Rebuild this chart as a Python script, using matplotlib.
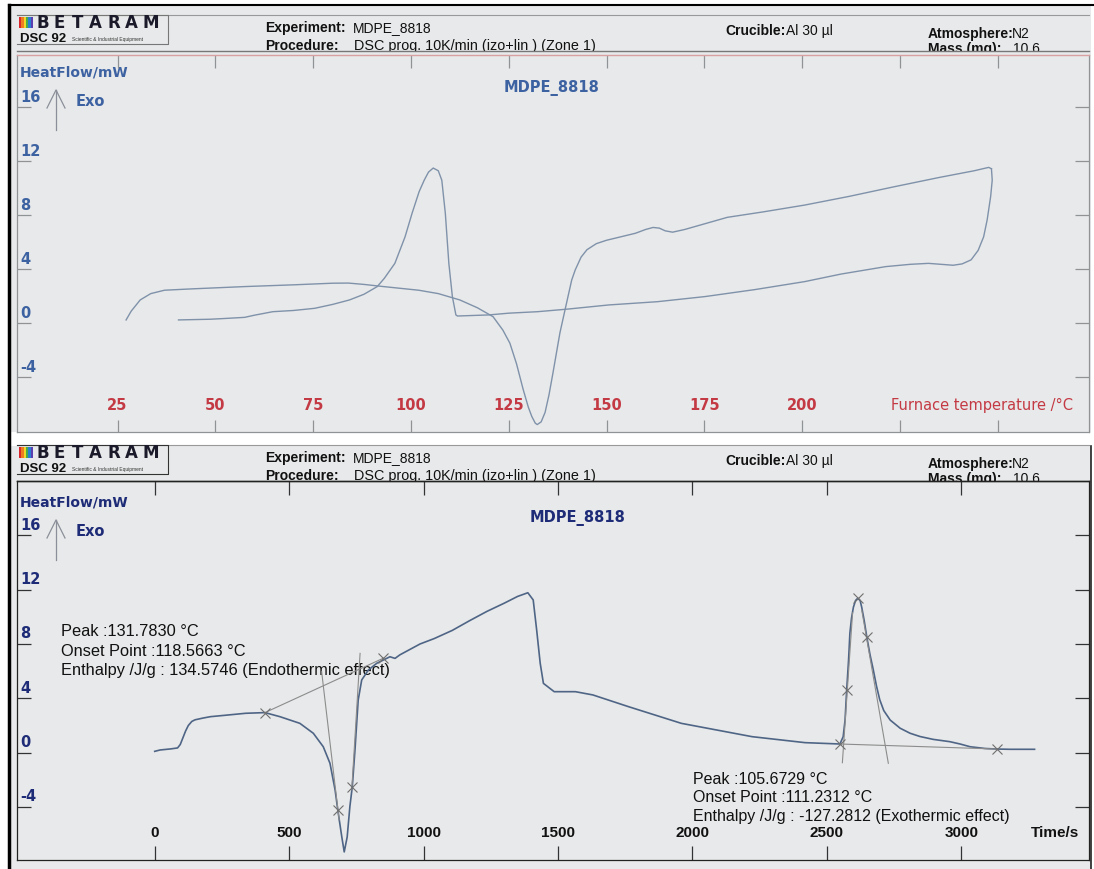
import matplotlib.pyplot as plt
from matplotlib.patches import Rectangle
from matplotlib.transforms import blended_transform_factory as blend

plt.rcParams['font.family'] = ['Liberation Sans', 'DejaVu Sans']

# heat flow (mW) against furnace temperature (degC): heating ramp then cooling
heat_T = [27.2, 28.5, 30.8, 33.5, 37.0, 44.0, 57.5, 70.0, 80.0, 84.0, 88.0, 93.0,
          102.0, 107.0, 112.5, 117.0, 121.0, 123.5, 125.3, 127.0, 128.7, 130.0,
          130.9, 131.8, 132.3, 133.3, 134.3, 135.3, 136.3, 137.2, 138.1, 139.4,
          141.1, 142.0, 143.5, 145.0, 147.4, 150.0, 157.4, 160.0, 161.9, 163.5,
          165.0, 166.9, 170.0, 180.9, 190.0, 200.7, 212.0, 223.3, 235.0, 244.0,
          247.7, 248.4]
heat_hf = [0.25, 0.9, 1.73, 2.2, 2.45, 2.55, 2.72, 2.85, 2.97, 2.98, 2.88, 2.72,
           2.45, 2.2, 1.73, 1.15, 0.49, -0.5, -1.47, -3.0, -4.9, -6.2,
           -6.9, -7.4, -7.5, -7.3, -6.6, -5.3, -3.7, -2.2, -0.7, 1.0,
           3.2, 3.95, 4.9, 5.45, 5.9, 6.15, 6.67, 6.95, 7.1, 7.05,
           6.85, 6.75, 6.95, 7.85, 8.25, 8.76, 9.4, 10.1, 10.8, 11.3,
           11.55, 11.45]
cool_T = [248.4, 248.6, 248.2, 247.3, 246.4, 245.0, 243.2, 240.9, 238.6, 232.3,
          227.7, 221.4, 210.0, 200.7, 188.0, 175.2, 163.0, 150.6, 140.0, 132.4,
          125.0, 119.9, 111.9, 111.5, 110.6, 109.7, 108.8, 107.9, 107.0, 105.7,
          104.5, 103.4, 102.1, 100.3, 98.5, 95.9, 93.2, 91.4, 88.0, 84.3,
          80.0, 75.4, 70.0, 64.7, 60.0, 57.5, 52.0, 48.6, 40.6]
cool_hf = [11.45, 10.6, 9.4, 7.65, 6.4, 5.4, 4.7, 4.4, 4.3, 4.44,
           4.37, 4.2, 3.65, 3.09, 2.5, 1.98, 1.6, 1.36, 1.05, 0.86,
           0.75, 0.62, 0.54, 0.62, 1.98, 4.44, 8.15, 10.6, 11.3, 11.5,
           11.2, 10.6, 9.75, 8.15, 6.4, 4.44, 3.33, 2.72, 2.15, 1.73,
           1.4, 1.11, 0.95, 0.86, 0.6, 0.44, 0.35, 0.3, 0.25]

# the same run against time (s)
time_s = [0, 20, 60, 85, 95, 105, 115, 125, 138, 150, 180, 207, 260, 338, 410,
          466, 540, 590, 627, 652, 671, 681, 696, 705, 716, 726, 735, 745, 757,
          770, 795, 826, 875, 894, 912, 987, 1040, 1107, 1170, 1236, 1300, 1350,
          1388, 1408, 1421, 1434, 1446, 1486, 1565, 1630, 1762, 1959, 2222, 2419,
          2549, 2561, 2568, 2574, 2581, 2586, 2592, 2599, 2607, 2615, 2624, 2630,
          2639, 2649, 2661, 2673, 2685, 2697, 2712, 2736, 2773, 2810, 2847, 2896,
          2958, 2996, 3033, 3089, 3132, 3182, 3273]
time_hf = [0.1, 0.2, 0.28, 0.35, 0.6, 1.1, 1.6, 2.0, 2.3, 2.42, 2.55, 2.65, 2.75,
           2.9, 2.95, 2.65, 2.16, 1.43, 0.44, -0.78, -2.74, -4.2, -6.2, -7.3,
           -6.2, -3.97, -2.5, 0.2, 3.88, 5.35, 6.09, 6.58, 7.06, 6.94, 7.2, 8.0,
           8.4, 9.0, 9.7, 10.4, 11.0, 11.5, 11.77, 11.24, 9.0, 6.58, 5.1, 4.49,
           4.49, 4.25, 3.39, 2.16, 1.18, 0.74, 0.64, 1.18, 2.4, 4.6, 6.8, 8.8,
           9.9, 10.7, 11.2, 11.36, 11.2, 10.7, 9.75, 8.5, 7.2, 6.1, 4.9, 3.9,
           3.1, 2.4, 1.8, 1.43, 1.19, 0.98, 0.81, 0.64, 0.44, 0.31, 0.27, 0.25,
           0.25]

# peak integration: baselines, tangents and picked points
endo_base_t, endo_base_hf = [410, 850], [2.95, 6.95]
endo_left_t, endo_left_hf = [621, 686], [5.96, -4.95]
endo_right_t, endo_right_hf = [764, 733], [7.31, -2.74]
exo_base_t, exo_base_hf = [2549, 3132], [0.64, 0.27]
exo_left_t, exo_left_hf = [2558, 2596], [-0.74, 10.3]
exo_right_t, exo_right_hf = [2630, 2729], [10.5, -0.78]
pick_t = [410, 681, 735, 850, 2549, 2574, 2615, 2649, 3132]
pick_hf = [2.95, -4.2, -2.5, 6.95, 0.64, 4.6, 11.36, 8.5, 0.27]

temp_ticks = [25, 50, 75, 100, 125, 150, 175, 200, 225, 250]
temp_labels = ['25', '50', '75', '100', '125', '150', '175', '200']
time_ticks = [0, 500, 1000, 1500, 2000, 2500, 3000]
hf_ticks = [-4, 0, 4, 8, 12, 16]

endo_text = ['Peak :131.7830 °C', 'Onset Point :118.5663 °C',
             'Enthalpy /J/g : 134.5746 (Endothermic effect)']
exo_text = ['Peak :105.6729 °C', 'Onset Point :111.2312 °C',
            'Enthalpy /J/g : -127.2812 (Exothermic effect)']

W, H = 1094, 869
PAPER = '#e8e9ea'
fig = plt.figure(figsize=(W / 100, H / 100), dpi=100)
fig.patch.set_facecolor('white')

bg = fig.add_axes([0, 0, 1, 1])
bg.set_xlim(0, W)
bg.set_ylim(H, 0)
bg.axis('off')


def px_axes(x0, y0, x1, y1):
    a = fig.add_axes([x0 / W, 1 - y1 / H, (x1 - x0) / W, (y1 - y0) / H])
    a.patch.set_alpha(0)
    return a


# paper sheets and outer frame
bg.add_patch(Rectangle((10, 6), 1081, 426, color=PAPER, lw=0))
bg.add_patch(Rectangle((10, 446), 1081, 423, color=PAPER, lw=0))
bg.plot([9, 9], [5, 869], color='black', lw=2.5)
bg.plot([9, 1094], [5, 5], color='black', lw=1.5)
bg.plot([1091, 1091], [446, 869], color='#222222', lw=1.2)


def header(y0, dark):
    line_c = '#333333' if dark else '#777777'
    bg.plot([17, 1089], [y0, y0], color='#999999', lw=0.8)
    # logo box
    bg.plot([17, 168, 168, 17], [y0, y0, y0 + 29, y0 + 29], color=line_c, lw=0.8)
    rainbow = ['#d8262a', '#ee7d22', '#f1d92a', '#4aaa46', '#2a7fd0', '#5b3fb0']
    for i, c in enumerate(rainbow):
        bg.add_patch(Rectangle((19 + i * 2.3, y0 + 2), 2.3, 11, color=c, lw=0))
    for i, ch in enumerate('BETARAM'):
        bg.text(36 + i * 17.8, y0 + 7.5, ch, fontsize=12, fontweight='bold',
                color='#1a1a2a', ha='left', va='center', family='DejaVu Sans')
    bg.text(20, y0 + 23.5, 'DSC 92', fontsize=9.5, fontweight='bold',
            color='#111111', ha='left', va='center')
    bg.text(72, y0 + 24, 'Scientific & Industrial Equipment', fontsize=3.5,
            color='#333333', ha='left', va='center')
    bg.text(265, y0 + 13, 'Experiment:', fontsize=10, fontweight='bold',
            color='#111111', ha='left', va='center')
    bg.text(353, y0 + 13, 'MDPE_8818', fontsize=10, color='#111111',
            ha='left', va='center')
    bg.text(265, y0 + 31, 'Procedure:', fontsize=10, fontweight='bold',
            color='#111111', ha='left', va='center')
    bg.text(354, y0 + 31, 'DSC prog. 10K/min (izo+lin ) (Zone 1)', fontsize=10.4,
            color='#111111', ha='left', va='center')
    bg.text(725, y0 + 16, 'Crucible:', fontsize=10, fontweight='bold',
            color='#111111', ha='left', va='center')
    bg.text(786, y0 + 16, 'Al 30 µl', fontsize=10, color='#111111',
            ha='left', va='center')
    bg.text(928, y0 + 19, 'Atmosphere:', fontsize=10, fontweight='bold',
            color='#111111', ha='left', va='center')
    bg.text(1012, y0 + 19, 'N2', fontsize=10, color='#111111',
            ha='left', va='center')
    bg.text(928, y0 + 34, 'Mass (mg):', fontsize=10, fontweight='bold',
            color='#111111', ha='left', va='center')
    bg.text(1013, y0 + 34, '10.6', fontsize=10, color='#111111',
            ha='left', va='center')
    # bottom edge of the header hides the text descenders
    bg.add_patch(Rectangle((170, y0 + 36), 919, 6, color=PAPER, lw=0, zorder=3))
    bg.plot([17, 1089], [y0 + 36, y0 + 36], color=line_c, lw=1.0, zorder=4)


header(15, False)
header(445, True)


def style_axes(ax, spine_c, top_c, tick_c):
    for s in ('left', 'right', 'bottom'):
        ax.spines[s].set_color(spine_c)
        ax.spines[s].set_linewidth(0.9)
    ax.spines['top'].set_color(top_c)
    ax.spines['top'].set_linewidth(1.0)
    ax.tick_params(axis='both', which='both', direction='in', colors=tick_c,
                   labelleft=False, labelbottom=False, width=0.9,
                   top=True, right=True, length=10)
    ax.set_yticks(hf_ticks)


def y_labels(ax, color):
    tr = blend(ax.transAxes, ax.transData)
    for v in hf_ticks:
        ax.text(0.003, v + 0.2, str(v), transform=tr, fontsize=10.5,
                fontweight='bold', color=color, ha='left', va='bottom',
                family='DejaVu Sans')


def exo_mark(y_px, color):
    # "HeatFlow/mW" and the exo arrow, placed in panel pixels
    bg.text(20, y_px - 27, 'HeatFlow/mW', fontsize=10, fontweight='bold',
            color=color, ha='left', va='center', family='DejaVu Sans')
    bg.plot([56, 56], [y_px - 10, y_px + 30], color='#8a8f99', lw=0.9)
    bg.plot([47, 56, 65], [y_px + 8, y_px - 10, y_px + 8], color='#8a8f99', lw=0.9)
    bg.text(76, y_px + 1, 'Exo', fontsize=10.5, fontweight='bold', color=color,
            ha='left', va='center', family='DejaVu Sans')


# ---- temperature panel ----
def t_of(x):
    return 25 + (x - 117.5) / 3.912


def hf1_of(y):
    return (323.3 - y) / 13.5


ax1 = px_axes(17, 55, 1089, 432)
ax1.set_xlim(t_of(17), t_of(1089))
ax1.set_ylim(hf1_of(432), hf1_of(55))
style_axes(ax1, '#8f9396', '#d8a0a0', '#8f9396')
ax1.set_xticks(temp_ticks)
ax1.tick_params(axis='x', length=9)
ax1.plot(heat_T, heat_hf, color='#7f92aa', lw=1.0)
ax1.plot(cool_T, cool_hf, color='#7f92aa', lw=1.0)
tr1 = blend(ax1.transData, ax1.transAxes)
for v, lab in zip(temp_ticks, temp_labels):
    ax1.text(v, 0.07, lab, transform=tr1, fontsize=10.5, fontweight='bold',
             color='#c43a44', ha='center', va='center', family='DejaVu Sans')
ax1.text(0.815, 0.07, 'Furnace temperature /°C', transform=ax1.transAxes,
         fontsize=10.5, color='#c43a44', ha='left', va='center',
         family='DejaVu Sans')
y_labels(ax1, '#3d62a2')
ax1.text(552, 88, 'MDPE_8818', transform=bg.transData, fontsize=10.5,
         fontweight='bold', color='#3d62a2', ha='center', va='center',
         family='DejaVu Sans')
exo_mark(100, '#3d62a2')


# ---- time panel ----
def s_of(x):
    return (x - 154.7) / 0.26883


def hf2_of(y):
    return (752.7 - y) / 13.59


ax2 = px_axes(17, 481, 1089, 860)
ax2.set_xlim(s_of(17), s_of(1089))
ax2.set_ylim(hf2_of(860), hf2_of(481))
style_axes(ax2, '#222222', '#222222', '#333333')
ax2.set_xticks(time_ticks)
ax2.plot(time_s, time_hf, color='#4f6586', lw=1.2)
guide = dict(color='#8c8c8c', lw=0.8)
for xs, ys in [(endo_base_t, endo_base_hf), (endo_left_t, endo_left_hf),
               (endo_right_t, endo_right_hf), (exo_base_t, exo_base_hf),
               (exo_left_t, exo_left_hf), (exo_right_t, exo_right_hf)]:
    ax2.plot(xs, ys, **guide)
ax2.plot(pick_t, pick_hf, ls='none', marker='x', ms=7, mew=0.8, color='#6f6f6f')
tr2 = blend(ax2.transData, ax2.transAxes)
for v in time_ticks:
    ax2.text(v, 0.072, str(v), transform=tr2, fontsize=11, fontweight='bold',
             color='#111111', ha='center', va='center')
ax2.text(0.946, 0.072, 'Time/s', transform=ax2.transAxes, fontsize=11,
         fontweight='bold', color='#111111', ha='left', va='center')
y_labels(ax2, '#1e2c78')
ax2.text(578, 518, 'MDPE_8818', transform=bg.transData, fontsize=10.5,
         fontweight='bold', color='#1e2c78', ha='center', va='center',
         family='DejaVu Sans')
exo_mark(530, '#1e2c78')

for i, s in enumerate(endo_text):
    bg.text(61, 632 + i * 19, s, fontsize=11.8, color='#111111',
            ha='left', va='center', zorder=5)
for i, s in enumerate(exo_text):
    bg.text(693, 779 + i * 18.5, s, fontsize=11.5, color='#111111',
            ha='left', va='center', zorder=5)

fig.savefig('out.png', dpi=100)
